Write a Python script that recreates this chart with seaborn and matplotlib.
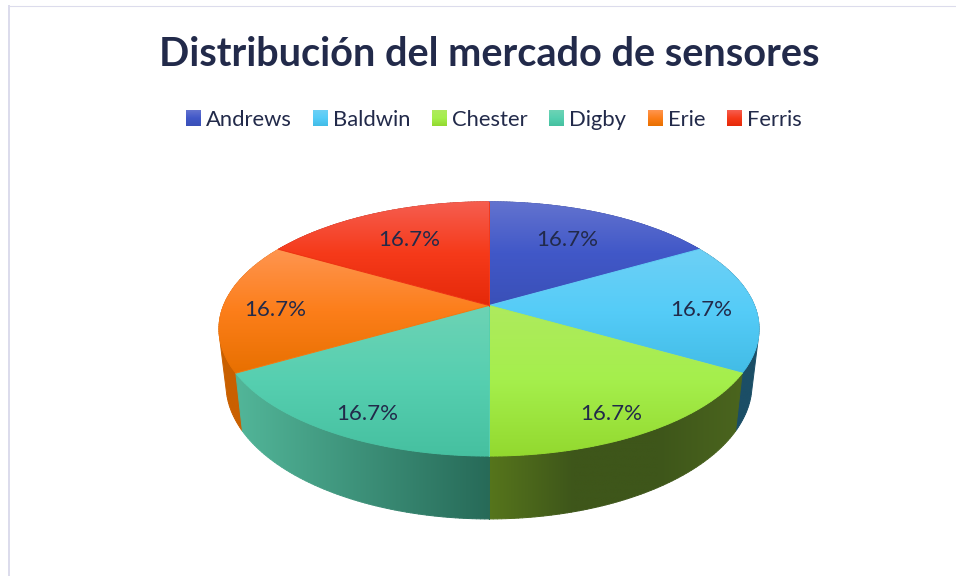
import numpy as np
import matplotlib
matplotlib.use("Agg")
import matplotlib.pyplot as plt
from matplotlib.patches import Polygon, Patch
from matplotlib.collections import LineCollection
import seaborn as sns

companies = ["Andrews", "Baldwin", "Chester", "Digby", "Erie", "Ferris"]
shares = [16.7, 16.7, 16.7, 16.7, 16.7, 16.7]
title = "Distribución del mercado de sensores"

top_stops = [
    ["#6373cf", "#4158c8", "#3a50b8"],
    ["#6dd0f5", "#55ccf8", "#42bce6"],
    ["#aeea5e", "#a5ef4c", "#93d92f"],
    ["#6dd3b5", "#56cfb0", "#46c0a0"],
    ["#ff9550", "#fc7e1a", "#e87000"],
    ["#f55e50", "#f63a1a", "#e5290a"],
]
side_stops = [
    ["#2a3a80", "#2a3a80"],
    ["#1b4e66", "#1b4e66"],
    ["#56751c", "#3e561a", "#3e561a", "#4b651e"],
    ["#52b699", "#276a58"],
    ["#c96000", "#c96000"],
    ["#a02010", "#a02010"],
]
label_xy = [(567, 240), (701, 310), (611, 414), (367, 414), (275, 310), (409, 240)]

INK = "#222a4a"
FONT = "Lato"

sns.set_theme(style="white")
plt.rcParams["font.family"] = [FONT, "DejaVu Sans"]

fig = plt.figure(figsize=(9.56, 5.76), dpi=100, facecolor="white")
ax = fig.add_axes([0, 0, 1, 1])
ax.axis("off")


def project(theta, X, a, b, k=0.1843):
    """theta clockwise from the far point of the disc; perspective view."""
    x, y = np.sin(theta), np.cos(theta)
    d = 1 + k * y
    return 489 + X * x / d, (a * y + b) / d


def top_rim(theta):
    return project(theta, 265.4, -66.5, 305.5)


def bottom_rim(theta):
    return project(theta, 258.5, -64.0, 359.3)


def hull(points):
    pts = sorted(map(tuple, points))
    def half(seq):
        out = []
        for p in seq:
            while len(out) > 1 and ((out[-1][0] - out[-2][0]) * (p[1] - out[-2][1])
                                    - (out[-1][1] - out[-2][1]) * (p[0] - out[-2][0])) <= 0:
                out.pop()
            out.append(p)
        return out[:-1]
    return np.array(half(pts) + half(pts[::-1]))


def grad_fill(poly, stops, axis, zorder):
    cmap = sns.blend_palette(stops, as_cmap=True)
    x0, y0 = poly.min(axis=0)
    x1, y1 = poly.max(axis=0)
    ramp = np.linspace(0, 1, 256)
    arr = ramp.reshape(-1, 1) if axis == "y" else ramp.reshape(1, -1)
    im = ax.imshow(arr, cmap=cmap, vmin=0, vmax=1, extent=(x0, x1, y1, y0),
                   origin="upper", aspect="auto", interpolation="bilinear", zorder=zorder)
    im.set_clip_path(Polygon(poly, closed=True, transform=ax.transData))
    # soft edge so the clipped image is not jagged
    closed = np.vstack([poly, poly[0]])
    segs = np.stack([closed[:-1], closed[1:]], axis=1)
    mids = segs.mean(axis=1)
    t = (mids[:, 1] - y0) / max(y1 - y0, 1) if axis == "y" else (mids[:, 0] - x0) / max(x1 - x0, 1)
    ax.add_collection(LineCollection(segs, colors=cmap(t), linewidths=0.7,
                                     capstyle="round", zorder=zorder + 0.01))


fractions = np.array(shares) / np.sum(shares)
edges = 2 * np.pi * np.concatenate([[0], np.cumsum(fractions)])

# sides first: back to front
for order, i in enumerate([0, 5, 1, 4, 2, 3]):
    th = np.linspace(edges[i], edges[i + 1], 80)
    tx, ty = top_rim(th)
    bx, by = bottom_rim(th)
    poly = np.vstack([np.column_stack([tx, ty]), np.column_stack([bx, by])[::-1]])
    if i in (1, 4):  # the two slices on the silhouette: close the tangent gap
        poly = hull(poly)
    grad_fill(poly, side_stops[i], "x", 2 + order * 0.1)

# top faces
cx, cy = 489.0, float(top_rim(np.array([np.pi / 2]))[1][0])
for i in range(len(shares)):
    th = np.linspace(edges[i], edges[i + 1], 80)
    tx, ty = top_rim(th)
    poly = np.vstack([[[cx, cy]], np.column_stack([tx, ty])])
    grad_fill(poly, top_stops[i], "y", 4 + i * 0.1)

# value labels
for share, (lx, ly) in zip(fractions, label_xy):
    ax.text(lx, ly, f"{share * 100:.1f}%", ha="center", va="center",
            fontsize=16, color=INK, zorder=8)

# outer frame
ax.plot([9, 9], [576, 5], color="#dcdcec", lw=1.44, solid_capstyle="butt", zorder=1)
ax.plot([8, 956], [5.5, 5.5], color="#dcdcec", lw=0.8, solid_capstyle="butt", zorder=1)

ax.set_xlim(0, 956)
ax.set_ylim(576, 0)

ax.set_title(title, x=489.5 / 956, y=1 - 66 / 576, pad=0, fontsize=28.5,
             fontweight="bold", color=INK)

handles = [Patch(facecolor=s[1], edgecolor="none", label=c) for c, s in zip(companies, top_stops)]
leg = ax.legend(handles=handles, loc="center", bbox_to_anchor=(493.5 / 956, 1 - 120.5 / 576),
                ncol=6, frameon=False, fontsize=15.8, labelcolor=INK,
                handlelength=0.64, handleheight=0.68, handletextpad=0.27,
                columnspacing=0.98, borderpad=0, borderaxespad=0)

# gradient swatches laid over the legend keys
fig.canvas.draw()
inv = ax.transData.inverted()
for patch, stops in zip(leg.get_patches(), top_stops):
    bb = patch.get_window_extent()
    (x0, y1), (x1, y0) = inv.transform([(bb.x0, bb.y0), (bb.x1, bb.y1)])
    im = ax.imshow(np.linspace(0, 1, 64).reshape(-1, 1), cmap=sns.blend_palette(stops, as_cmap=True),
                   extent=(x0, x1, y1, y0), origin="upper", aspect="auto", zorder=9)
ax.set_xlim(0, 956)
ax.set_ylim(576, 0)

fig.savefig("out.png", dpi=100, facecolor="white")
